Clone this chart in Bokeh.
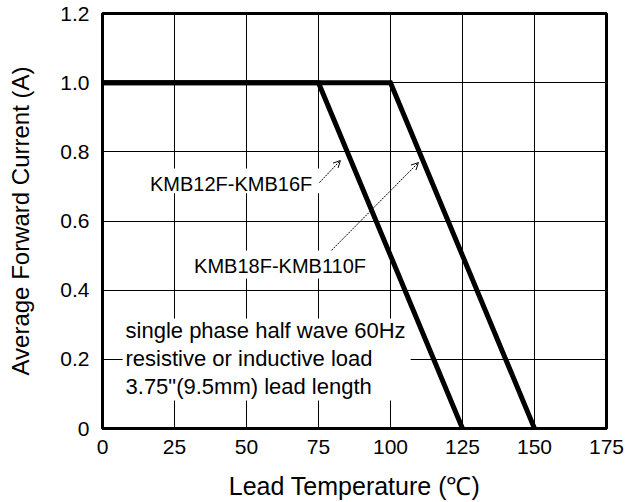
from bokeh.plotting import figure
from bokeh.models import Range1d, FixedTicker, Label, Arrow, OpenHead, BoxAnnotation
from bokeh.embed import file_html
from bokeh.resources import INLINE

# ---- data ----
temp_small = [0, 75, 125]          # KMB12F-KMB16F
current_small = [1.0, 1.0, 0.0]
temp_large = [0, 100, 150]         # KMB18F-KMB110F
current_large = [1.0, 1.0, 0.0]

x_ticks = [0, 25, 50, 75, 100, 125, 150, 175]
y_ticks = [0, 0.2, 0.4, 0.6, 0.8, 1.0, 1.2]
y_tick_labels = ["0", "0.2", "0.4", "0.6", "0.8", "1.0", "1.2"]

series_names = ["KMB12F-KMB16F", "KMB18F-KMB110F"]
note_lines = ["single phase half wave 60Hz",
              "resistive or inductive load",
              "3.75\"(9.5mm) lead length"]

FONT = "Liberation Sans"

p = figure(width=632, height=502, output_backend="svg", toolbar_location=None,
           x_range=Range1d(0, 175), y_range=Range1d(0, 1.2),
           min_border_left=102, min_border_right=26, min_border_top=13, min_border_bottom=74,
           x_axis_label="Lead Temperature (\u2103)",
           y_axis_label="Average Forward Current (A)")
p.background_fill_color = "white"
p.border_fill_color = "white"
p.outline_line_color = "black"
p.outline_line_width = 3

p.xaxis.ticker = FixedTicker(ticks=x_ticks)
p.yaxis.ticker = FixedTicker(ticks=y_ticks)
p.yaxis.major_label_overrides = {t: l for t, l in zip(y_ticks, y_tick_labels)}
for ax in (p.xaxis, p.yaxis):
    ax.axis_line_color = None
    ax.major_tick_line_color = None
    ax.minor_tick_line_color = None
    ax.major_label_text_font = FONT
    ax.major_label_text_font_size = "21px"
    ax.major_label_text_color = "black"
    ax.axis_label_text_font = FONT
    ax.axis_label_text_font_style = "normal"
    ax.axis_label_text_color = "black"
p.xaxis.axis_label_text_font_size = "25px"
p.yaxis.axis_label_text_font_size = "24px"
p.xaxis.major_label_standoff = 5
p.yaxis.major_label_standoff = 7
p.xaxis.axis_label_standoff = 15
p.yaxis.axis_label_standoff = 23

p.grid.grid_line_color = "black"
p.grid.grid_line_width = 1
p.grid.grid_line_alpha = 1

# white boxes behind annotations
for l, r, b, t in [(15.0, 76.0, 0.680, 0.752),
                   (31.0, 94.0, 0.434, 0.515),
                   (7.0, 107.0, 0.081, 0.318)]:
    p.add_layout(BoxAnnotation(left=l, right=r, bottom=b, top=t,
                               fill_color="white", fill_alpha=1, line_alpha=0))

p.line(temp_small, current_small, line_color="black", line_width=5, line_join="miter")
p.line(temp_large, current_large, line_color="black", line_width=5, line_join="miter")

p.add_layout(Label(x=16.5, y=0.708, text=series_names[0], text_font=FONT,
                   text_font_size="20px", text_baseline="middle", text_align="left",
                   text_color="black"))
p.add_layout(Label(x=31.8, y=0.471, text=series_names[1], text_font=FONT,
                   text_font_size="20px", text_baseline="middle", text_align="left",
                   text_color="black"))
for i, line in enumerate(note_lines):
    p.add_layout(Label(x=8.0, y=0.283 - i * 0.081, text=line, text_font=FONT,
                       text_font_size="22px", text_baseline="middle", text_align="left",
                       text_color="black"))

p.add_layout(Arrow(x_start=75.3, y_start=0.711, x_end=82.6, y_end=0.775,
                   line_width=1, line_dash="2 1", line_color="black",
                   end=OpenHead(size=7, line_width=1, line_color="black")))
p.add_layout(Arrow(x_start=79.5, y_start=0.515, x_end=109.7, y_end=0.769,
                   line_width=1, line_dash="2 1", line_color="black",
                   end=OpenHead(size=7, line_width=1, line_color="black")))

open("out.html", "w").write(file_html(p, INLINE))
